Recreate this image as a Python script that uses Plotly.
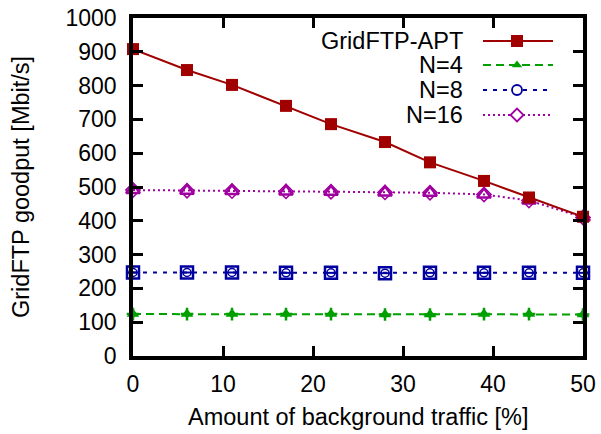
import plotly.graph_objects as go

# Background traffic share [%] and measured goodput [Mbit/s]
traffic = [0, 6, 11, 17, 22, 28, 33, 39, 44, 50]
apt = [908, 846, 802, 740, 686, 633, 573, 518, 469, 412]
n4 = [124, 124, 124, 124, 124, 123, 123, 124, 124, 123]
n8 = [247, 247, 247, 246, 246, 245, 246, 246, 246, 246]
n16 = [491, 489, 488, 487, 486, 484, 483, 478, 460, 410]

series_names = ["GridFTP-APT", "N=4", "N=8", "N=16"]
x_ticks = [0, 10, 20, 30, 40, 50]
y_ticks = list(range(0, 1001, 100))

RED = "#a00000"
GREEN = "#00a000"
BLUE = "#0000a0"
MAGENTA = "#a000a0"
FONT = "Liberation Sans, Arial, Helvetica, sans-serif"
TEXT_SIZE = 23.5
TICK_SIZE = 23

fig = go.Figure()


def add_series(y, color, dash, markers, name):
    """markers: list of (symbol, size, line_width)"""
    fig.add_trace(go.Scatter(
        x=traffic, y=y, mode="lines", name=name, showlegend=False,
        line=dict(color=color, width=2, dash=dash), cliponaxis=False))
    for sym, size, lw in markers:
        fig.add_trace(go.Scatter(
            x=traffic, y=y, mode="markers", showlegend=False, cliponaxis=False,
            marker=dict(symbol=sym, size=size, color=color,
                        line=dict(color=color, width=lw))))


add_series(n4, GREEN, "8px,5px",
           [("triangle-up", 11, 0), ("diamond-tall", 8, 0),
            ("cross-thin-open", 9, 2.5)], "N=4")
add_series(n8, BLUE, "4px,6px",
           [("square-open", 12, 2.5), ("circle-open", 8, 1.5),
            ("line-ew-open", 8, 2)], "N=8")
add_series(n16, MAGENTA, "2px,3px",
           [("triangle-up-open", 12, 2.5), ("diamond-open", 11, 1.5)], "N=16")
add_series(apt, RED, "solid", [("square", 12, 0)], "GridFTP-APT")

# Key in the upper right: label right-aligned, sample line with a marker to its right
key_rows = [315, 291, 266, 241]
key_styles = [
    (RED, "solid", "square", 12, 0),
    (GREEN, "8px,5px", "triangle-up", 9, 0),
    (BLUE, "4px,6px", "circle-open", 10, 1.8),
    (MAGENTA, "2px,3px", "diamond-open", 10, 1.8),
]
for name, ky, (color, dash, sym, size, lw) in zip(series_names, key_rows, key_styles):
    fig.add_trace(go.Scatter(
        x=[350, 420], y=[ky, ky], mode="lines", xaxis="x2", yaxis="y2",
        showlegend=False, line=dict(color=color, width=2, dash=dash)))
    if sym.endswith("-open"):
        # white fill behind the open marker so the line does not show through
        fig.add_trace(go.Scatter(
            x=[384], y=[ky], mode="markers", xaxis="x2", yaxis="y2", showlegend=False,
            marker=dict(symbol=sym.replace("-open", ""), size=size - 1, color="white")))
    fig.add_trace(go.Scatter(
        x=[384], y=[ky], mode="markers", xaxis="x2", yaxis="y2", showlegend=False,
        marker=dict(symbol=sym, size=size, color=color, line=dict(color=color, width=lw))))
    fig.add_annotation(x=332, y=ky, xref="x2", yref="y2", text=name,
                       showarrow=False, xanchor="right", yanchor="middle",
                       font=dict(family=FONT, size=TEXT_SIZE, color="black"))

axis_common = dict(
    showline=True, linecolor="black", linewidth=3.5, mirror="allticks",
    ticks="inside", ticklen=10, tickwidth=3, tickcolor="black",
    showgrid=False, zeroline=False,
    tickfont=dict(family=FONT, size=TICK_SIZE, color="black"),
)

fig.update_layout(
    width=601, height=434,
    margin=dict(l=133, r=18, t=18, b=78, autoexpand=False),
    paper_bgcolor="white", plot_bgcolor="white",
    font=dict(family=FONT, size=TEXT_SIZE, color="black"),
    showlegend=False,
    xaxis=dict(range=[0, 50], tickvals=x_ticks, ticklabelstandoff=5, **axis_common),
    yaxis=dict(range=[0, 1000], tickvals=y_ticks, ticklabelstandoff=8, **axis_common),
    xaxis2=dict(range=[0, 450], overlaying="x", visible=False, fixedrange=True),
    yaxis2=dict(range=[0, 338], overlaying="y", visible=False, fixedrange=True),
)

fig.add_annotation(x=0.5, y=0, xref="paper", yref="paper", yshift=-61,
                   text="Amount of background traffic [%]", showarrow=False,
                   xanchor="center", yanchor="middle",
                   font=dict(family=FONT, size=TEXT_SIZE, color="black"))
fig.add_annotation(x=0, y=0.5, xref="paper", yref="paper", xshift=-112,
                   text="GridFTP goodput [Mbit/s]", showarrow=False, textangle=-90,
                   xanchor="center", yanchor="middle",
                   font=dict(family=FONT, size=TEXT_SIZE, color="black"))

fig.write_html("out.html", config={"displayModeBar": False})
